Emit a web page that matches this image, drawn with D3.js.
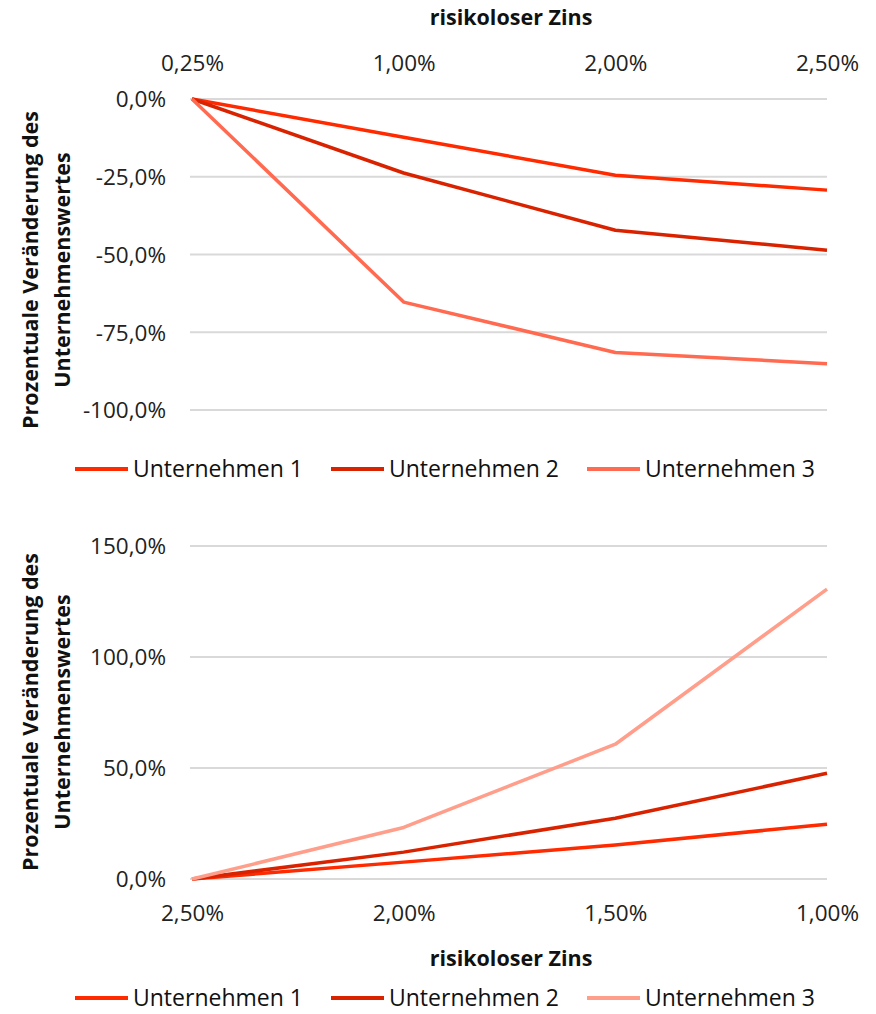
<!DOCTYPE html>
<html>
<head>
<meta http-equiv='Content-Type' content='text/html; charset=UTF-8'/>
<script src="https://d3js.org/d3.v7.min.js"></script>
<style>
    body { margin: 0; background: #fff; }
    svg { font-family: "Open Sans", sans-serif; }
    .tick text { font-family: "Open Sans", sans-serif; font-size: 22.5px; fill: #222; }
    .grid line { stroke: #d9d9d9; stroke-width: 2; }
    .title { font-size: 21.5px; font-weight: bold; fill: #111; }
    .legend text { font-size: 23px; fill: #111; }
    .series { fill: none; stroke-width: 3.5; stroke-linejoin: round; }
</style>
</head>
<body>
<svg id="main" width="876" height="1014"></svg>
<script>
    var names = ['Unternehmen 1', 'Unternehmen 2', 'Unternehmen 3']

    // oberes Diagramm: Zinsanstieg
    var topCats = ['0,25%', '1,00%', '2,00%', '2,50%']
    var topU1 = [0, -12.3, -24.5, -29.3]
    var topU2 = [0, -23.8, -42.2, -48.6]
    var topU3 = [0, -65.3, -81.5, -85.1]
    var topTicks = [0, -25, -50, -75, -100]
    var topColors = ['#ff2a00', '#d92300', '#ff6a50']

    // unteres Diagramm: Zinssenkung
    var botCats = ['2,50%', '2,00%', '1,50%', '1,00%']
    var botU1 = [0, 7.6, 15.3, 24.7]
    var botU2 = [0, 12.1, 27.4, 47.6]
    var botU3 = [0, 23.2, 60.7, 130.6]
    var botTicks = [0, 50, 100, 150]
    var botColors = ['#ff2a00', '#d92300', '#ff9e8a']

    var svg = d3.select('#main')
    var fmt = function(v){ return d3.format('.1f')(v).replace('−', '-').replace('.', ',') + '%' }

    function drawChart(opt) {
        var g = svg.append('g')
        var x = d3.scalePoint().domain(opt.cats).range([192, 827])
        var y = d3.scaleLinear().domain(opt.ydom).range(opt.yrange)

        // gridlines
        g.append('g').attr('class', 'grid')
            .selectAll('line').data(opt.ticks).enter().append('line')
            .attr('x1', 190).attr('x2', 827)
            .attr('y1', d => y(d)).attr('y2', d => y(d))

        // y axis
        var ya = g.append('g').attr('transform', 'translate(166,0)')
            .call(d3.axisLeft(y).tickValues(opt.ticks).tickFormat(fmt).tickSize(0).tickPadding(0))
        ya.select('.domain').remove()
        ya.selectAll('.tick text').attr('dy', '0.35em')

        // x axis
        var xa = g.append('g').attr('transform', 'translate(0,' + opt.xAxisY + ')')
            .call((opt.xTop ? d3.axisTop(x) : d3.axisBottom(x)).tickSize(0).tickPadding(0))
        xa.select('.domain').remove()
        xa.selectAll('.tick text').attr('y', 0).attr('dy', '0.35em')

        // series
        var line = d3.line().x((d, i) => x(opt.cats[i])).y(d => y(d))
        opt.series.forEach(function(s, k){
            g.append('path').attr('class', 'series')
                .attr('d', line(s)).attr('stroke', opt.colors[k])
        })

        // titles
        g.append('text').attr('class', 'title')
            .attr('x', 511).attr('y', opt.xTitleY).attr('dy', '0.35em').attr('text-anchor', 'middle')
            .text('risikoloser Zins')
        var yt = g.append('text').attr('class', 'title')
            .attr('transform', 'translate(38,' + opt.yTitleMid + ') rotate(-90)')
            .attr('text-anchor', 'middle')
        yt.append('tspan').attr('x', 0).attr('dy', 0).text('Prozentuale Veränderung des')
        yt.append('tspan').attr('x', 0).attr('dy', 32).text('Unternehmenswertes')

        // legend
        var lg = g.append('g').attr('class', 'legend')
            .attr('transform', 'translate(0,' + opt.legendY + ')')
        var lx = [75, 331, 587]
        names.forEach(function(n, k){
            lg.append('line').attr('x1', lx[k]).attr('x2', lx[k] + 53)
                .attr('y1', 0).attr('y2', 0)
                .attr('stroke', opt.colors[k]).attr('stroke-width', 4)
            lg.append('text').attr('x', lx[k] + 58).attr('y', 0).attr('dy', '0.35em').text(n)
        })
    }

    drawChart({
        cats: topCats, series: [topU1, topU2, topU3], colors: topColors,
        ydom: [0, -100], yrange: [99, 410], ticks: topTicks,
        xTop: true, xAxisY: 63, xTitleY: 17, yTitleMid: 270, legendY: 469
    })

    drawChart({
        cats: botCats, series: [botU1, botU2, botU3], colors: botColors,
        ydom: [0, 150], yrange: [879, 546], ticks: botTicks,
        xTop: false, xAxisY: 913, xTitleY: 958, yTitleMid: 712, legendY: 998
    })
</script>
</body>
</html>
